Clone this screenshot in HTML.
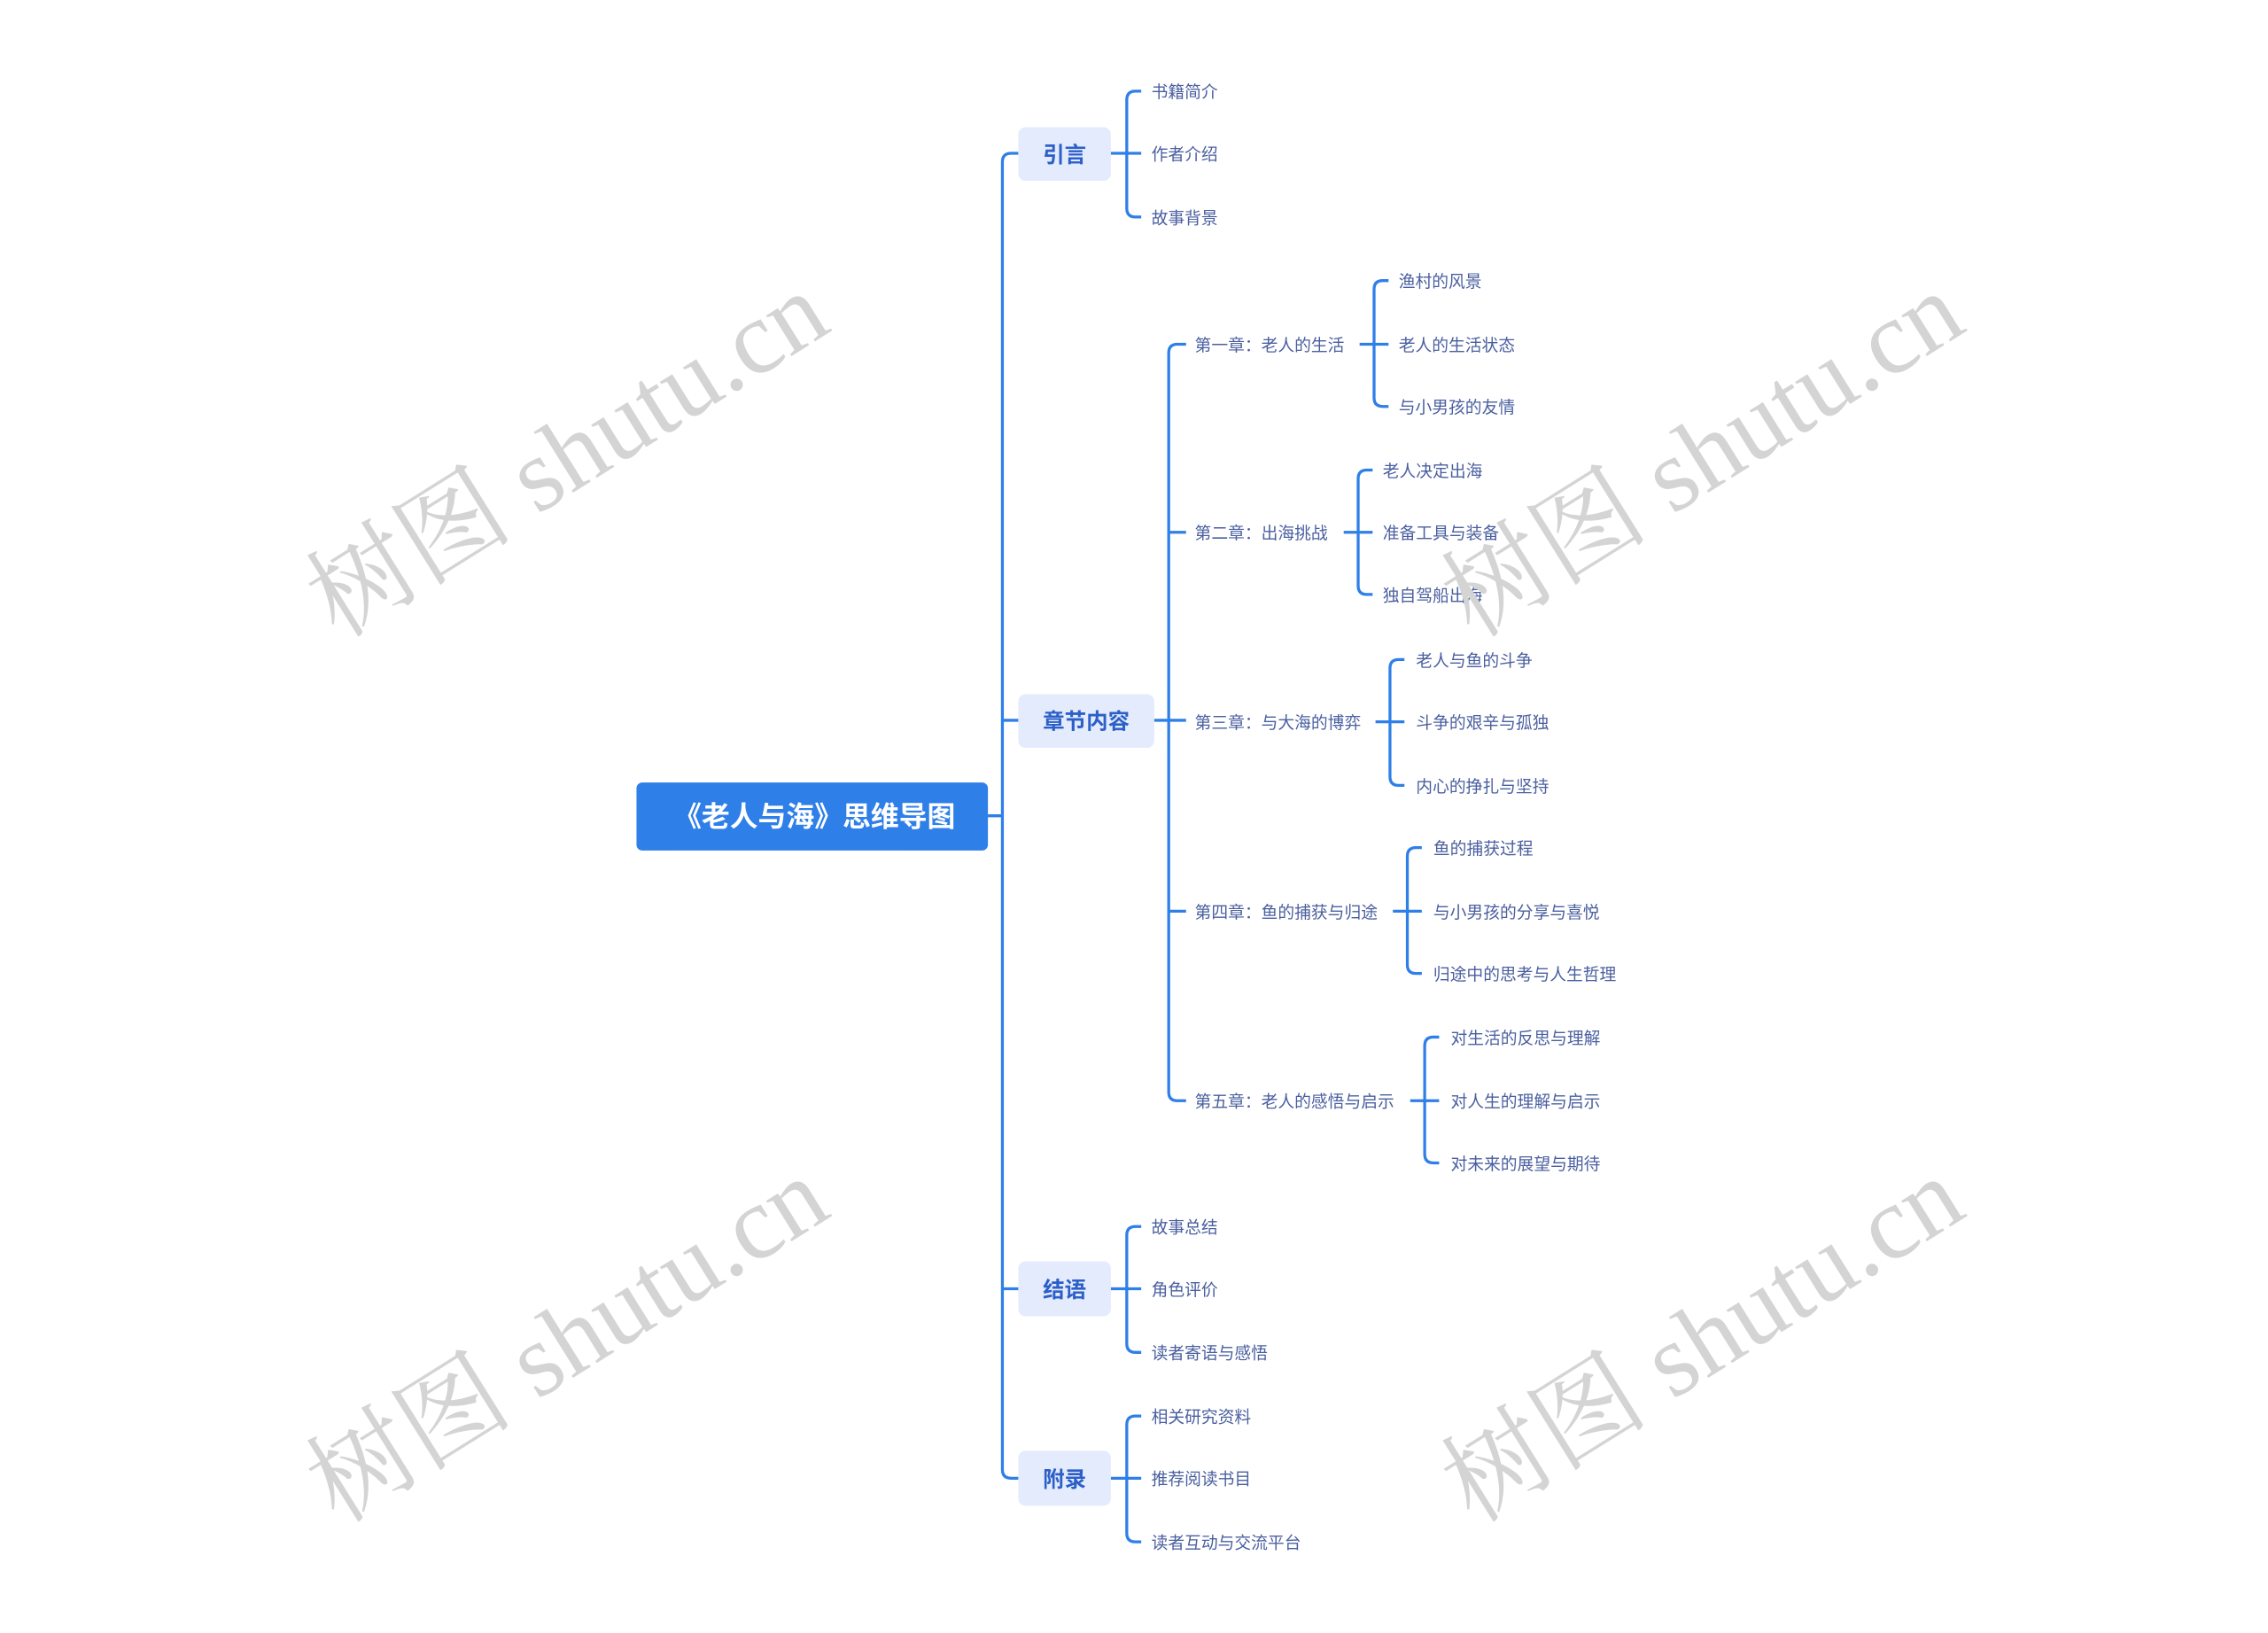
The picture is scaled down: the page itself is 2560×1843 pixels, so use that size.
<!DOCTYPE html>
<html><head><meta charset="utf-8"><style>
html,body{margin:0;padding:0;background:#fff;}
svg{display:block;}
text{font-family:"Liberation Sans","Noto Sans CJK SC",sans-serif;}
.wm{font-family:"Liberation Serif","Noto Serif CJK SC",serif;fill:#d4d4d4;font-size:72px;}
.leaf{font-size:11.5px;fill:#4a5f9f;dominant-baseline:middle;}
.l1{font-size:15px;fill:#2d5fc8;dominant-baseline:middle;text-anchor:middle;font-weight:bold;}
.ln{fill:none;stroke:#2f7fe8;stroke-width:2;}
</style></head><body>
<svg width="2560" height="1843" viewBox="0 0 1568 1129" xmlns="http://www.w3.org/2000/svg">
<g class="ln">
<path d="M683 564 H693"/>
<path d="M704 106 H699 Q693 106 693 112 V1016 Q693 1022 699 1022 H704"/>
<path d="M693 498 H704"/><path d="M693 891 H704"/>
<path d="M768 106 H789"/>
<path d="M789 63 H785 Q779 63 779 69 V144 Q779 150 785 150 H789"/>
<path d="M798 498 H820"/>
<path d="M820 238 H814 Q808 238 808 244 V755 Q808 761 814 761 H820"/>
<path d="M808 368 H820"/><path d="M808 630 H820"/>
<path d="M940 238 H960"/><path d="M960 194 H956 Q950 194 950 200 V275 Q950 281 956 281 H960"/>
<path d="M929 368 H949"/><path d="M949 325 H945 Q939 325 939 331 V405 Q939 411 945 411 H949"/>
<path d="M951 499 H971"/><path d="M971 456 H967 Q961 456 961 462 V537 Q961 543 967 543 H971"/>
<path d="M963 630 H983"/><path d="M983 586 H979 Q973 586 973 592 V667 Q973 673 979 673 H983"/>
<path d="M975 761 H995"/><path d="M995 717 H991 Q985 717 985 723 V798 Q985 804 991 804 H995"/>
<path d="M768 891 H789"/><path d="M789 848 H785 Q779 848 779 854 V929 Q779 935 785 935 H789"/>
<path d="M768 1022 H789"/><path d="M789 979 H785 Q779 979 779 985 V1060 Q779 1066 785 1066 H789"/>
</g>
<rect x="440" y="541" width="243" height="47" rx="4" fill="#2f7fe8"/>
<text x="563" y="566" fill="#fff" font-size="19.5" font-weight="bold" text-anchor="middle" dominant-baseline="middle">《老人与海》思维导图</text>
<rect x="704" y="88" width="64" height="37" rx="5" fill="#e3ebfd"/><text class="l1" x="736" y="108">引言</text>
<rect x="704" y="480" width="94" height="37" rx="5" fill="#e3ebfd"/><text class="l1" x="751" y="500">章节内容</text>
<rect x="704" y="872" width="64" height="38" rx="5" fill="#e3ebfd"/><text class="l1" x="736" y="893">结语</text>
<rect x="704" y="1003" width="64" height="38" rx="5" fill="#e3ebfd"/><text class="l1" x="736" y="1024">附录</text>
<g transform="translate(0,1.5)">
<text class="leaf" x="796" y="63">书籍简介</text>
<text class="leaf" x="796" y="106">作者介绍</text>
<text class="leaf" x="796" y="150">故事背景</text>
<text class="leaf" x="826" y="238">第一章：老人的生活</text>
<text class="leaf" x="826" y="368">第二章：出海挑战</text>
<text class="leaf" x="826" y="499">第三章：与大海的博弈</text>
<text class="leaf" x="826" y="630">第四章：鱼的捕获与归途</text>
<text class="leaf" x="826" y="761">第五章：老人的感悟与启示</text>
<text class="leaf" x="967" y="194">渔村的风景</text>
<text class="leaf" x="967" y="238">老人的生活状态</text>
<text class="leaf" x="967" y="281">与小男孩的友情</text>
<text class="leaf" x="956" y="325">老人决定出海</text>
<text class="leaf" x="956" y="368">准备工具与装备</text>
<text class="leaf" x="956" y="411">独自驾船出海</text>
<text class="leaf" x="979" y="456">老人与鱼的斗争</text>
<text class="leaf" x="979" y="499">斗争的艰辛与孤独</text>
<text class="leaf" x="979" y="543">内心的挣扎与坚持</text>
<text class="leaf" x="991" y="586">鱼的捕获过程</text>
<text class="leaf" x="991" y="630">与小男孩的分享与喜悦</text>
<text class="leaf" x="991" y="673">归途中的思考与人生哲理</text>
<text class="leaf" x="1003" y="717">对生活的反思与理解</text>
<text class="leaf" x="1003" y="761">对人生的理解与启示</text>
<text class="leaf" x="1003" y="804">对未来的展望与期待</text>
<text class="leaf" x="796" y="848">故事总结</text>
<text class="leaf" x="796" y="891">角色评价</text>
<text class="leaf" x="796" y="935">读者寄语与感悟</text>
<text class="leaf" x="796" y="979">相关研究资料</text>
<text class="leaf" x="796" y="1022">推荐阅读书目</text>
<text class="leaf" x="796" y="1066">读者互动与交流平台</text>
</g>
<text class="wm" text-anchor="middle" transform="translate(405,335) rotate(-32)">树图 shutu.cn</text>
<text class="wm" text-anchor="middle" transform="translate(1190,335) rotate(-32)">树图 shutu.cn</text>
<text class="wm" text-anchor="middle" transform="translate(405,947) rotate(-32)">树图 shutu.cn</text>
<text class="wm" text-anchor="middle" transform="translate(1190,947) rotate(-32)">树图 shutu.cn</text>
</svg>
</body></html>
